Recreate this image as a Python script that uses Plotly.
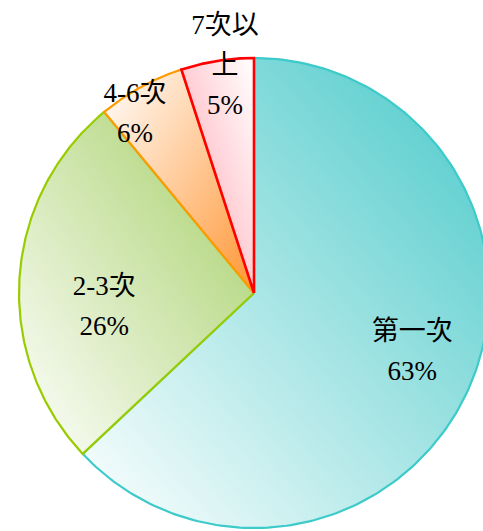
import numpy as np
import plotly.graph_objects as go

# ---- data ----
categories = ["第一次", "2-3次", "4-6次", "7次以上"]
values = [63, 26, 6, 5]
label_text = ["第一次", "2-3次", "4-6次", "7次以<br>上"]

# ---- styles ----
edge_colors = ["#3CCACA", "#99CC00", "#FF9900", "#FF0000"]
end_colors = [(74, 201, 201), (164, 206, 100), (255, 150, 52), (255, 160, 172)]
# (white at min-x side?, white at min-y side?) for each slice's two-direction gradient
grad_dirs = [(True, True), (True, True), (True, False), (False, False)]
edge_widths = [2.2, 2.2, 2.2, 2.6]
label_r = [0.72, 0.64, 0.91, 0.97]
label_dtheta = [-2.6, -9.3, -5.0, 1.7]
line_gap = 40
font_size = 27

W, H = 483, 531
CX, CY = 254, 293
R = 235

fig = go.Figure()

total = float(sum(values))
angles = np.cumsum([0] + [v / total * 360.0 for v in values])


def rgba(c, a):
    return f"rgba({c[0]},{c[1]},{c[2]},{a})"


white = (255, 255, 255)
label_x, label_y, label_s = [], [], []
for i, cat in enumerate(categories):
    a0, a1 = angles[i], angles[i + 1]
    th = np.radians(np.linspace(a0, a1, 200))
    xs = np.concatenate([[0], R * np.sin(th), [0]])
    ys = np.concatenate([[0], R * np.cos(th), [0]])
    hw, vw = grad_dirs[i]
    c = end_colors[i]
    hs = [[0, rgba(white, 1)], [1, rgba(c, 1)]] if hw else [[0, rgba(c, 1)], [1, rgba(white, 1)]]
    vs = [[0, rgba(white, 0.5)], [1, rgba(c, 0.5)]] if vw else [[0, rgba(c, 0.5)], [1, rgba(white, 0.5)]]
    fig.add_trace(go.Scatter(x=xs, y=ys, mode="lines", fill="toself",
                             line=dict(width=0, color="rgba(0,0,0,0)"),
                             fillgradient=dict(type="horizontal", colorscale=hs),
                             hoverinfo="skip", showlegend=False))
    fig.add_trace(go.Scatter(x=xs, y=ys, mode="lines", fill="toself",
                             line=dict(width=edge_widths[i], color=edge_colors[i]),
                             fillgradient=dict(type="vertical", colorscale=vs),
                             hoverinfo="skip", showlegend=False))
    mid = np.radians((a0 + a1) / 2 + label_dtheta[i])
    lx = label_r[i] * R * np.sin(mid)
    ly = label_r[i] * R * np.cos(mid)
    lines = label_text[i].split("<br>") + [f"{values[i]}%"]
    n = len(lines)
    for k, s in enumerate(lines):
        label_x.append(lx)
        label_y.append(ly + ((n - 1) / 2 - k) * line_gap)
        label_s.append(s)

fig.add_trace(go.Scatter(x=label_x, y=label_y, mode="text", text=label_s,
                         textposition="middle center",
                         textfont=dict(size=font_size, color="#000000",
                                       family="Liberation Serif, Noto Sans CJK TC"),
                         hoverinfo="skip", showlegend=False))

fig.update_layout(
    width=W, height=H,
    margin=dict(l=0, r=0, t=0, b=0),
    paper_bgcolor="white", plot_bgcolor="white",
    xaxis=dict(range=[-CX, W - CX], visible=False, fixedrange=True),
    yaxis=dict(range=[-(H - CY), CY], visible=False, fixedrange=True),
    hovermode=False,
)

fig.write_html("out.html")
